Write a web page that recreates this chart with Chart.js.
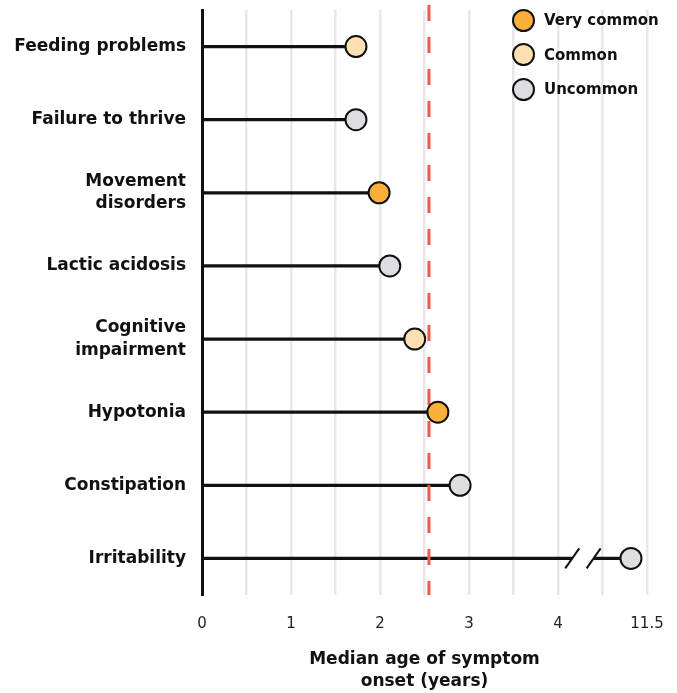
<!DOCTYPE html>
<html>
<head>
<meta charset="utf-8">
<script src="https://cdn.jsdelivr.net/npm/chart.js@4.4.1/dist/chart.umd.min.js"></script>
<style>
  html, body { margin: 0; padding: 0; background: #fff; }
  #wrap { position: relative; width: 677px; height: 693px; }
  #legend { position: absolute; left: 512px; top: 3px; font-family: "DejaVu Sans", sans-serif; font-weight: bold; font-size: 15px; color: #111; }
  #legend div { height: 34.5px; display: flex; align-items: center; }
  #legend span.dot { display: inline-block; width: 19px; height: 19px; border: 2px solid #111; border-radius: 50%; margin-right: 9px; }
</style>
</head>
<body>
<div id="wrap">
  <canvas id="myChart" width="677" height="693"></canvas>
  <div id="legend"></div>
</div>
<script>
// symptoms, top to bottom
var categories = ['Feeding problems', 'Failure to thrive', ['Movement', 'disorders'], 'Lactic acidosis', ['Cognitive', 'impairment'], 'Hypotonia', 'Constipation', 'Irritability'];
// median age of onset, in axis units (the last tick stands for 11.5 years, after the break)
var medianAge = [1.73, 1.73, 1.99, 2.11, 2.39, 2.65, 2.9, 4.82];
var frequency = ['Common', 'Uncommon', 'Very common', 'Uncommon', 'Common', 'Very common', 'Uncommon', 'Uncommon'];
var tickLabels = ['0', '1', '2', '3', '4', '11.5'];
var overallMedian = 2.55;
var breakFrom = 4.16, breakTo = 4.40;

var freqColors = {
    'Very common': '#FBB03B',
    'Common': '#FFE0B2',
    'Uncommon': '#DCDEE1'
};

// legend
var legendEl = document.getElementById('legend');
Object.keys(freqColors).forEach(function(name){
    var row = document.createElement('div');
    row.innerHTML = '<span class="dot" style="background:' + freqColors[name] + '"></span>' + name;
    legendEl.appendChild(row);
});

var FONT = '"DejaVu Sans", sans-serif';

var extras = {
    id: 'extras',
    afterDatasetDraw: function(chart, args){
        if (args.index !== 0) return;
        var ctx = chart.ctx, x = chart.scales.x, y = chart.scales.y, area = chart.chartArea;
        // break in the last stem
        var last = medianAge.length - 1;
        var yy = y.getPixelForValue(last);
        var x1 = x.getPixelForValue(breakFrom), x2 = x.getPixelForValue(breakTo);
        ctx.save();
        ctx.fillStyle = '#fff';
        ctx.fillRect(x1, yy - 3, x2 - x1, 6);
        ctx.strokeStyle = '#111';
        ctx.lineWidth = 2;
        [x1, x2].forEach(function(px){
            ctx.beginPath();
            ctx.moveTo(px - 7, yy + 10);
            ctx.lineTo(px + 7, yy - 10);
            ctx.stroke();
        });
        // overall median, dashed red
        var mx = x.getPixelForValue(overallMedian);
        ctx.strokeStyle = '#F2584A';
        ctx.lineWidth = 3;
        ctx.setLineDash([16, 16]);
        ctx.beginPath();
        ctx.moveTo(mx, area.top - 5);
        ctx.lineTo(mx, area.bottom);
        ctx.stroke();
        ctx.restore();
    }
};

var ctx = document.getElementById('myChart').getContext('2d');
var myChart = new Chart(ctx, {
    data: {
        labels: categories,
        datasets: [{
            type: 'bar',
            indexAxis: 'y',
            data: medianAge,
            backgroundColor: '#111',
            barThickness: 2.5,
            order: 1
        }, {
            type: 'line',
            indexAxis: 'y',
            data: medianAge,
            showLine: false,
            pointRadius: 10.5,
            pointBorderWidth: 2,
            pointBorderColor: '#111',
            pointBackgroundColor: frequency.map(function(f){ return freqColors[f]; }),
            order: 0
        }]
    },
    options: {
        indexAxis: 'y',
        responsive: false,
        animation: false,
        layout: { autoPadding: false, padding: { top: 10, right: 30 } },
        plugins: {
            legend: { display: false },
            tooltip: { enabled: false }
        },
        scales: {
            x: {
                min: 0,
                max: 5,
                ticks: {
                    stepSize: 0.5,
                    autoSkip: false,
                    maxRotation: 0,
                    padding: 20,
                    color: '#222',
                    font: { family: FONT, size: 15 },
                    callback: function(v){
                        return Number.isInteger(v) ? tickLabels[v] : '';
                    }
                },
                grid: {
                    drawTicks: false,
                    color: '#E8E8EB',
                    lineWidth: 2.5
                },
                border: { display: false },
                title: {
                    display: true,
                    text: ['Median age of symptom', 'onset (years)'],
                    color: '#111',
                    font: { family: FONT, size: 17, weight: 'bold', lineHeight: 1.3 },
                    padding: { top: 14, bottom: 0 }
                },
                afterFit: function(s){
                    s.height = 98;
                    s.paddingLeft = 0;
                    s.paddingRight = 0;
                }
            },
            y: {
                ticks: {
                    padding: 16,
                    color: '#111',
                    font: { family: FONT, size: 17, weight: 'bold', lineHeight: 1.3 }
                },
                grid: { display: false, drawTicks: false },
                border: { color: '#111', width: 3 },
                afterFit: function(s){
                    s.width = 202;
                    s.paddingTop = 0;
                    s.paddingBottom = 0;
                }
            }
        }
    },
    plugins: [extras]
});
</script>
</body>
</html>
